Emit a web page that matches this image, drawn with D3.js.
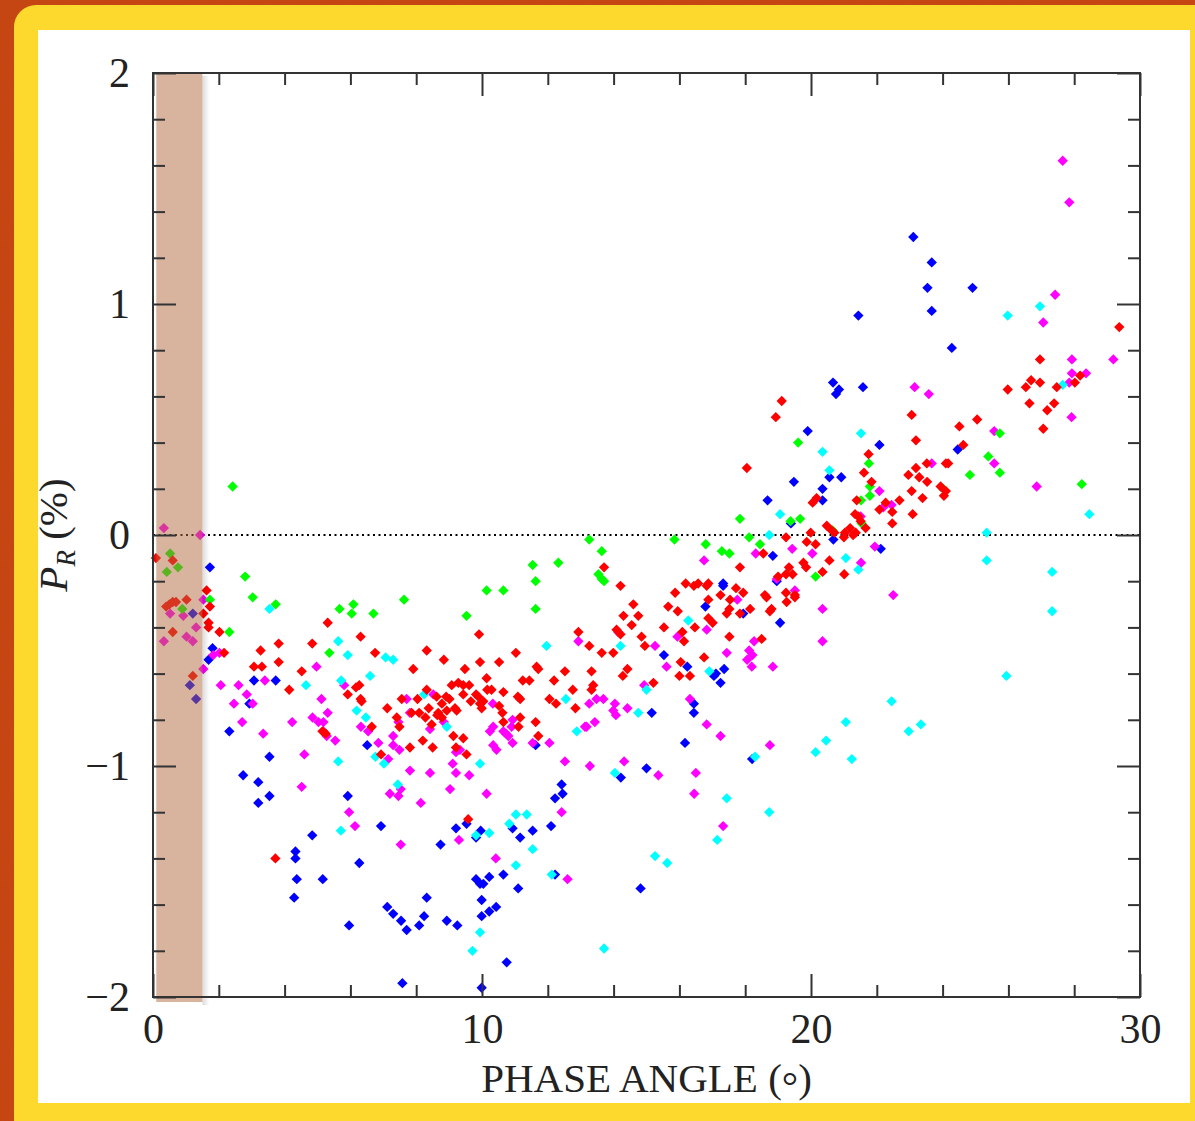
<!DOCTYPE html>
<html>
<head>
<meta charset="utf-8">
<script src="https://cdn.jsdelivr.net/npm/d3@7"></script>
<style>
  body { margin: 0; background: #c9420f; }
  svg { display: block; }
  .tick text { font-family: "Liberation Serif", serif; font-size: 42px; fill: #222; }
  .axis path { display: none; }
  .axis line { stroke: #333; stroke-width: 2; }
</style>
</head>
<body>
<div id="chart"></div>
<script>
// phase angle (deg), P_R (%), one list per colour
var redPts = [
  [0.09,-0.10],[0.60,-0.11],[0.40,-0.31],[0.50,-0.30],[0.60,-0.29],[0.70,-0.29],[1.02,-0.28],[0.60,-0.42],[1.21,-0.61],
  [1.63,-0.24],[1.73,-0.31],[1.53,-0.34],[1.69,-0.38],[1.69,-0.40],[2.02,-0.42],[2.16,-0.51],[3.27,-0.50],[3.82,-0.47],
  [3.82,-0.55],[3.07,-0.57],[3.31,-0.57],[4.14,-0.67],[4.52,-0.59],[4.84,-0.47],[5.31,-0.38],[6.31,-0.44],[6.75,-0.51],
  [6.17,-0.66],[6.27,-0.65],[5.92,-0.69],[6.31,-0.71],[6.34,-0.72],[7.12,-0.75],[6.65,-0.83],[7.41,-0.79],[7.49,-0.83],
  [6.93,-0.95],[5.15,-0.85],[5.25,-0.86],[7.91,-0.58],[7.56,-0.71],[8.32,-0.50],[8.04,-0.71],[8.32,-0.67],[7.86,-0.77],
  [8.09,-0.77],[8.38,-0.75],[8.28,-0.79],[7.81,-0.92],[8.20,-0.89],[8.50,-0.92],[8.47,-0.82],[8.84,-0.54],[8.62,-0.70],
  [8.91,-0.70],[9.01,-0.71],[8.78,-0.73],[9.08,-0.65],[8.67,-0.77],[8.78,-0.79],[8.64,-0.78],[8.93,-0.76],[9.18,-0.75],
  [9.23,-0.76],[9.48,-0.58],[9.28,-0.64],[9.43,-0.65],[9.61,-0.65],[9.43,-0.69],[9.66,-0.72],[9.82,-0.69],[9.89,-0.70],
  [9.94,-0.73],[10.04,-0.72],[9.99,-0.75],[9.94,-0.55],[9.91,-0.43],[10.14,-0.62],[10.16,-0.67],[10.29,-0.67],[10.52,-0.55],
  [10.65,-0.68],[10.52,-0.74],[10.62,-0.77],[10.65,-0.81],[11.03,-0.51],[11.09,-0.70],[11.16,-0.71],[11.24,-0.63],[11.44,-0.63],
  [11.16,-0.79],[11.11,-0.83],[11.63,-0.81],[11.71,-0.87],[11.66,-0.57],[11.71,-0.58],[12.05,-0.71],[12.25,-0.73],[12.19,-0.63],
  [12.52,-0.59],[12.76,-0.67],[12.84,-0.75],[12.93,-0.42],[13.26,-0.48],[13.33,-0.59],[13.38,-0.65],[13.33,-0.67],[13.64,-0.51],
  [13.71,-0.14],[13.99,-0.51],[14.21,-0.22],[14.09,-0.41],[14.21,-0.43],[14.30,-0.35],[14.55,-0.39],[14.60,-0.30],[14.75,-0.35],
  [14.85,-0.44],[14.95,-0.48],[14.28,-0.61],[14.42,-0.58],[9.13,-0.87],[9.43,-0.88],[9.21,-0.92],[9.53,-0.95],[3.72,-1.40],
  [9.58,-1.23],
  [19.11,0.58],[18.93,0.51],[18.05,0.29],[23.06,0.52],[23.19,0.41],[25.05,0.50],[24.51,0.47],[24.63,0.39],[26.64,0.57],
  [27.18,0.54],[27.39,0.57],[27.06,0.46],[21.75,0.35],[21.61,0.27],[21.84,0.23],[22.96,0.26],[23.19,0.29],[23.29,0.25],
  [23.52,0.31],[23.53,0.23],[23.06,0.19],[23.39,0.16],[23.09,0.09],[23.94,0.21],[24.10,0.19],[24.04,0.17],[24.10,0.31],
  [24.17,0.31],[22.69,0.15],[22.47,0.10],[22.47,0.05],[22.27,0.14],[22.08,0.11],[21.39,0.15],[21.34,0.09],[21.44,0.08],
  [21.51,0.06],[21.66,0.03],[21.19,0.03],[21.03,0.01],[21.00,-0.01],[21.28,0.00],[21.36,0.01],[20.71,0.01],[20.48,0.04],
  [20.63,0.02],[20.17,0.16],[20.05,0.14],[19.99,0.01],[19.87,-0.03],[20.14,-0.04],[19.24,-0.01],[18.55,-0.08],[19.77,-0.12],
  [19.85,-0.14],[20.56,-0.11],[20.35,-0.16],[21.01,-0.17],[19.33,-0.14],[19.44,-0.17],[19.24,-0.17],[19.00,-0.18],[17.84,-0.14],
  [19.24,-0.25],[19.51,-0.26],[19.51,-0.27],[19.26,-0.29],[18.60,-0.26],[18.65,-0.27],[18.80,-0.32],[18.75,-0.33],[18.50,-0.45],
  [17.94,-0.25],[17.72,-0.23],[17.54,-0.28],[17.52,-0.32],[17.25,-0.26],[16.88,-0.28],[17.44,-0.34],[17.84,-0.34],[17.52,-0.44],
  [18.15,-0.32],[16.88,-0.36],[17.01,-0.38],[16.57,-0.21],[16.44,-0.22],[16.88,-0.21],[16.83,-0.22],[16.19,-0.21],[15.87,-0.25],
  [15.66,-0.31],[15.95,-0.33],[15.53,-0.40],[16.09,-0.42],[16.14,-0.46],[16.47,-0.40],[16.75,-0.53],[16.04,-0.55],[16.00,-0.61],
  [16.32,-0.61],[15.21,-0.64],[29.37,0.90],[26.96,0.76],[26.69,0.67],[26.53,0.64],[26.96,0.66],[25.98,0.63],[27.47,0.64],
  [28.02,0.66],[28.18,0.69]
];
var magentaPts = [
  [0.33,0.03],[1.43,0.00],[0.52,-0.34],[0.92,-0.35],[0.33,-0.46],[1.02,-0.44],[1.21,-0.46],[1.31,-0.40],[1.53,-0.28],
  [1.53,-0.58],[1.83,-0.52],[2.02,-0.51],[2.06,-0.65],[2.60,-0.65],[2.46,-0.73],[2.85,-0.69],[3.03,-0.73],[2.71,-0.81],
  [3.40,-0.63],[3.35,-0.86],[4.23,-0.81],[4.60,-0.95],[4.97,-0.57],[5.12,-0.71],[4.85,-0.79],[5.03,-0.81],[5.18,-0.81],
  [5.31,-0.77],[5.18,-0.85],[5.28,-0.87],[5.54,-0.89],[5.81,-0.65],[6.32,-0.83],[6.54,-0.85],[6.85,-0.90],[7.30,-0.87],
  [7.30,-0.91],[7.49,-0.93],[7.15,-0.97],[7.46,-0.81],[7.71,-0.71],[7.81,-0.77],[8.52,-0.69],[8.84,-0.81],[8.42,-0.84],
  [9.11,-0.99],[9.21,-0.94],[9.33,-0.93],[10.33,-0.73],[10.24,-0.85],[10.34,-0.83],[10.34,-0.91],[10.44,-0.93],[10.65,-0.85],
  [10.73,-0.86],[10.80,-0.87],[10.90,-0.83],[10.93,-0.80],[10.93,-0.90],[11.54,-0.90],[12.05,-0.90],[12.52,-0.98],[12.93,-0.46],
  [13.13,-0.83],[13.18,-0.83],[13.26,-0.73],[13.48,-0.71],[13.69,-0.71],[13.43,-0.81],[13.28,-1.00],[13.99,-0.76],[14.04,-0.73],
  [14.07,-0.78],[14.42,-0.75],[14.14,-0.42],[14.32,-0.98],[14.93,-0.65],
  [4.52,-1.09],[5.96,-1.20],[6.14,-1.26],[7.20,-1.12],[7.46,-1.13],[7.53,-1.10],[7.81,-1.02],[8.42,-1.03],[8.14,-1.16],
  [7.53,-1.34],[9.03,-1.10],[9.21,-1.03],[9.61,-1.04],[10.14,-1.12],[9.30,-1.32],[10.42,-1.40],[12.42,-1.20],[12.60,-1.49],
  [27.92,0.51],[25.57,0.45],[23.67,0.31],[25.57,0.31],[26.86,0.21],[22.08,0.19],[22.45,0.13],[22.20,0.12],[21.51,0.08],
  [21.94,-0.05],[19.43,-0.06],[18.32,-0.08],[20.04,-0.08],[16.75,-0.11],[21.52,-0.12],[18.96,-0.19],[17.76,-0.28],[19.51,-0.24],
  [20.35,-0.32],[22.50,-0.26],[20.35,-0.46],[16.83,-0.41],[15.94,-0.44],[15.26,-0.48],[18.27,-0.46],[18.12,-0.50],[18.22,-0.52],
  [18.06,-0.54],[18.20,-0.57],[17.44,-0.51],[18.84,-0.57],[15.61,-0.57],[16.32,-0.71],[16.83,-0.82],[17.25,-0.87],[18.75,-0.91],
  [15.36,-1.04],[16.50,-1.03],[16.45,-1.12],[17.33,-1.26],
  [27.65,1.62],[27.85,1.44],[27.42,1.04],[27.06,0.92],[23.15,0.64],[23.58,0.61],[29.19,0.76],[27.93,0.76],[27.85,0.66],
  [27.93,0.70],[28.36,0.70]
];
var bluePts = [
  [1.73,-0.14],[1.21,-0.34],[1.81,-0.49],[1.69,-0.54],[1.12,-0.65],[1.31,-0.71],[3.07,-0.63],[3.73,-0.63],[2.93,-0.73],
  [2.32,-0.85],[3.54,-0.96],[6.51,-0.91],[11.63,-0.91],[15.00,-1.01],
  [2.74,-1.04],[3.20,-1.07],[3.54,-1.13],[3.20,-1.16],[4.84,-1.30],[4.33,-1.37],[4.33,-1.40],[4.37,-1.49],[4.29,-1.57],
  [5.16,-1.49],[5.92,-1.13],[6.27,-1.42],[5.96,-1.69],[6.93,-1.26],[7.12,-1.61],[7.30,-1.64],[7.54,-1.67],[7.71,-1.71],
  [8.09,-1.69],[8.24,-1.65],[8.32,-1.57],[8.93,-1.67],[9.25,-1.69],[8.74,-1.34],[9.21,-1.27],[9.53,-1.25],[9.96,-1.28],
  [9.82,-1.31],[9.82,-1.49],[10.04,-1.51],[10.22,-1.48],[9.94,-1.51],[9.99,-1.58],[9.99,-1.65],[10.22,-1.63],[10.43,-1.61],
  [10.65,-1.47],[10.93,-1.27],[11.16,-1.31],[11.54,-1.28],[11.10,-1.53],[10.75,-1.85],[7.58,-1.94],[9.99,-1.96],[12.10,-1.26],
  [12.22,-1.14],[12.45,-1.12],[12.42,-1.08],[12.22,-1.47],[14.22,-1.05],[14.82,-1.53],
  [19.90,0.45],[22.08,0.39],[24.46,0.37],[19.48,0.23],[18.68,0.15],[20.35,0.20],[20.56,0.25],[20.92,0.25],[20.35,0.15],
  [19.39,0.05],[20.68,-0.02],[22.12,-0.06],[18.84,-0.09],[17.33,-0.21],[17.33,-0.22],[18.96,-0.20],[16.79,-0.31],[17.94,-0.34],
  [19.06,-0.38],[15.53,-0.52],[16.24,-0.57],[17.11,-0.60],[17.05,-0.61],[17.36,-0.58],[17.25,-0.64],[15.16,-0.77],[16.44,-0.73],
  [16.44,-0.77],[16.17,-0.90],[18.21,-0.97],
  [23.11,1.29],[23.67,1.18],[23.54,1.07],[24.91,1.07],[23.67,0.97],[24.28,0.81],[21.44,0.95],[20.67,0.66],[20.76,0.61],
  [20.85,0.63],[21.58,0.64]
];
var cyanPts = [
  [3.54,-0.32],[5.63,-0.46],[5.92,-0.52],[7.07,-0.53],[7.30,-0.54],[6.60,-0.61],[4.65,-0.65],[5.72,-0.63],[6.19,-0.76],
  [6.47,-0.79],[6.76,-0.96],[7.02,-0.99],[5.63,-0.98],[8.24,-0.69],[8.93,-0.83],[9.94,-0.99],[11.96,-0.48],[12.55,-0.71],
  [12.88,-0.85],[14.21,-0.48],[14.75,-0.77],[15.00,-0.67],
  [5.71,-1.28],[7.44,-1.08],[9.82,-1.30],[10.22,-1.29],[10.83,-1.25],[11.03,-1.21],[11.36,-1.21],[11.54,-1.36],[11.03,-1.43],
  [12.12,-1.47],[9.94,-1.72],[9.71,-1.80],[13.71,-1.79],[14.04,-1.03],
  [21.52,0.44],[20.35,0.36],[20.56,0.28],[19.06,0.09],[18.73,0.00],[25.34,0.01],[28.46,0.09],[25.34,-0.11],[21.06,-0.10],
  [21.44,-0.15],[27.33,-0.16],[27.33,-0.33],[16.27,-0.37],[16.91,-0.59],[25.94,-0.61],[22.45,-0.72],[21.06,-0.81],[20.46,-0.89],
  [20.14,-0.94],[23.34,-0.82],[22.97,-0.85],[21.24,-0.97],[18.30,-0.96],
  [17.44,-1.14],[18.73,-1.20],[17.15,-1.32],[15.26,-1.39],[15.63,-1.42],
  [26.96,0.99],[25.98,0.95],[27.65,0.65]
];
var greenPts = [
  [2.42,0.21],[0.52,-0.08],[0.42,-0.16],[0.76,-0.14],[0.89,-0.32],[1.73,-0.28],[2.80,-0.18],[3.03,-0.27],[3.73,-0.30],
  [2.32,-0.42],[5.67,-0.32],[6.09,-0.30],[6.04,-0.34],[6.70,-0.34],[7.63,-0.28],[5.36,-0.51],[9.53,-0.35],[10.14,-0.24],
  [10.65,-0.24],[11.54,-0.13],[11.63,-0.20],[11.63,-0.32],[12.32,-0.12],[13.26,-0.02],[13.64,-0.07],[13.54,-0.17],[13.64,-0.19],
  [13.71,-0.20],
  [19.61,0.40],[21.76,0.31],[21.79,0.21],[21.79,0.17],[21.52,0.15],[21.54,0.05],[24.02,0.20],[24.83,0.26],[25.39,0.34],
  [25.74,0.27],[25.74,0.44],[28.23,0.22],[17.84,0.07],[19.38,0.06],[19.67,0.07],[18.12,-0.01],[15.85,-0.02],[16.80,-0.04],
  [17.29,-0.07],[17.52,-0.08],[18.45,-0.04],[20.14,-0.18],[20.66,0.02]
];

var series = [
  { name: "blue", color: "#0000ff", values: bluePts },
  { name: "magenta", color: "#ff00ff", values: magentaPts },
  { name: "cyan", color: "#00ffff", values: cyanPts },
  { name: "green", color: "#00ff00", values: greenPts },
  { name: "red", color: "#ff0000", values: redPts }
];

var xMajor = [0, 10, 20, 30];
var xMinor = d3.range(2, 30, 2).filter(function(v) { return v % 10 != 0 });
var yMajor = [-2, -1, 0, 1, 2];
var yMinor = d3.range(-1.8, 2, 0.2).map(function(v) { return +v.toFixed(1) }).filter(function(v) { return Math.abs(v % 1) > 0.01 });
var bandRange = [0.1, 1.5];

var W = 1195, H = 1121;
var x = d3.scaleLinear().domain([0, 30]).range([153, 1140]);
var y = d3.scaleLinear().domain([-2, 2]).range([997, 73]);

var svg = d3.select("#chart").append("svg")
  .attr("width", W)
  .attr("height", H);

var defs = svg.append("defs");
var grain = defs.append("filter").attr("id", "grain").attr("x", 0).attr("y", 0).attr("width", 1).attr("height", 1);
grain.append("feTurbulence").attr("type", "fractalNoise").attr("baseFrequency", 0.8).attr("numOctaves", 2).attr("seed", 4);
grain.append("feColorMatrix").attr("values", "0 0 0 0 0.45  0 0 0 0 0.10  0 0 0 0 0.02  0 0 0 0.9 -0.1");
var fade = defs.append("linearGradient").attr("id", "fade");
fade.append("stop").attr("offset", 0).attr("stop-color", "#000").attr("stop-opacity", 0.14);
fade.append("stop").attr("offset", 1).attr("stop-color", "#000").attr("stop-opacity", 0);

// frame: orange backdrop, yellow border, white panel
svg.append("rect").attr("width", W).attr("height", H).attr("fill", "#c9420f");
svg.append("rect").attr("width", W).attr("height", H).attr("filter", "url(#grain)").attr("opacity", 0.5);
svg.append("rect").attr("x", 14).attr("y", 5).attr("width", W + 30).attr("height", H + 30).attr("rx", 22).attr("fill", "#fdd92d");
svg.append("rect").attr("x", 38).attr("y", 30).attr("width", 1152).attr("height", 1073).attr("fill", "#ffffff");

// zero line
svg.append("path")
  .attr("d", d3.line().x(function(d) { return x(d) }).y(y(0))([0, 30]))
  .attr("stroke", "#000")
  .attr("stroke-width", 2)
  .attr("stroke-dasharray", "2,3.5")
  .attr("fill", "none");

var marker = d3.symbol().type(d3.symbolDiamond2).size(68);

svg.selectAll("g.series")
  .data(series)
  .enter()
  .append("g")
    .attr("class", "series")
    .attr("fill", function(d) { return d.color })
  .selectAll("path")
  .data(function(d) { return d.values })
  .enter()
  .append("path")
    .attr("d", marker)
    .attr("transform", function(d) { return "translate(" + x(d[0]) + "," + y(d[1]) + ")" });

// shaded band near opposition, with a soft edge on its right and bottom
var bandH = y(-2) - y(2) + 5;
svg.append("rect")
  .attr("x", x(bandRange[1]))
  .attr("y", y(2) + 3)
  .attr("width", 7)
  .attr("height", bandH)
  .attr("fill", "url(#fade)");
svg.append("rect")
  .attr("x", x(bandRange[0]))
  .attr("y", y(2))
  .attr("width", x(bandRange[1]) - x(bandRange[0]))
  .attr("height", bandH)
  .attr("fill", "rgb(178,106,64)")
  .attr("fill-opacity", 0.5);

// axes, ticks pointing in on all four sides
function addAxis(axis, tx, ty) {
  svg.append("g")
    .attr("class", "axis")
    .attr("transform", "translate(" + tx + "," + ty + ")")
    .call(axis);
}
addAxis(d3.axisBottom(x).tickValues(xMinor).tickSize(-12).tickFormat(""), 0, y(-2));
addAxis(d3.axisBottom(x).tickValues(xMajor).tickSize(-23).tickPadding(16).tickFormat(d3.format("d")), 0, y(-2));
addAxis(d3.axisTop(x).tickValues(xMinor).tickSize(-12).tickFormat(""), 0, y(2));
addAxis(d3.axisTop(x).tickValues(xMajor).tickSize(-23).tickFormat(""), 0, y(2));
addAxis(d3.axisLeft(y).tickValues(yMinor).tickSize(-12).tickFormat(""), x(0), 0);
addAxis(d3.axisLeft(y).tickValues(yMajor).tickSize(-23).tickPadding(23).tickFormat(d3.format("d")), x(0), 0);
addAxis(d3.axisRight(y).tickValues(yMinor).tickSize(-12).tickFormat(""), x(30), 0);
addAxis(d3.axisRight(y).tickValues(yMajor).tickSize(-23).tickFormat(""), x(30), 0);

svg.append("rect")
  .attr("x", x(0))
  .attr("y", y(2))
  .attr("width", x(30) - x(0))
  .attr("height", y(-2) - y(2))
  .attr("fill", "none")
  .attr("stroke", "#333")
  .attr("stroke-width", 2);

// axis titles
var xt = svg.append("text")
  .attr("x", (x(0) + x(30)) / 2)
  .attr("y", 1092)
  .attr("text-anchor", "middle")
  .style("font-family", "Liberation Serif, serif")
  .style("font-size", "41px")
  .attr("fill", "#222");
xt.append("tspan").text("PHASE ANGLE (");
xt.append("tspan").attr("dy", 8).text("°");
xt.append("tspan").attr("dy", -8).text(")");

var yt = svg.append("text")
  .attr("transform", "translate(67," + y(0) + ") rotate(-90)")
  .attr("text-anchor", "middle")
  .style("font-family", "Liberation Serif, serif")
  .style("font-size", "41px")
  .attr("fill", "#222");
yt.append("tspan").style("font-style", "italic").text("P");
yt.append("tspan").style("font-style", "italic").style("font-size", "27px").attr("dy", 8).text("R");
yt.append("tspan").attr("dy", -8).text(" (%)");
</script>
</body>
</html>
